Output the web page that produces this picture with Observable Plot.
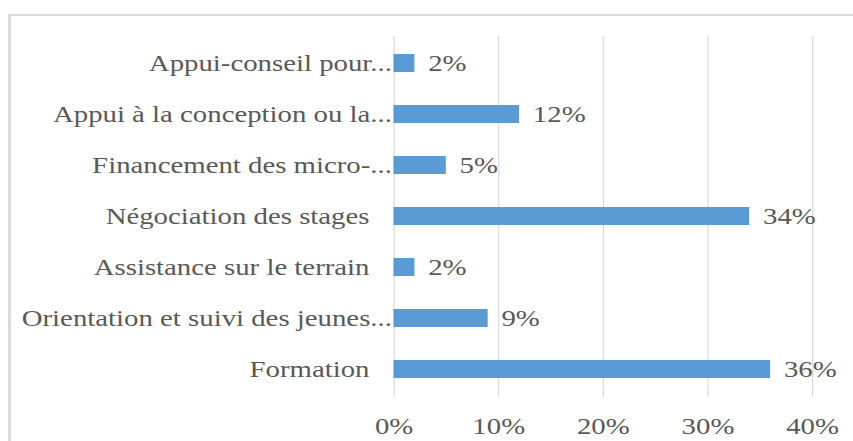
<!DOCTYPE html>
<html>
<head>
<meta charset="utf-8">
<script src="https://cdn.jsdelivr.net/npm/d3@7"></script>
<script src="https://cdn.jsdelivr.net/npm/@observablehq/plot@0.6"></script>
<style>
  html, body { margin: 0; padding: 0; background: #fff; }
  #wrap { position: relative; width: 853px; height: 441px; overflow: hidden; }
  #frame { position: absolute; left: 8px; top: 14px; right: -10px; bottom: -10px;
           border-left: 3px solid #d9d9d9; border-top: 2px solid #d9d9d9; }
  #chart { position: absolute; left: 0; top: 0; }
</style>
</head>
<body>
<div id="wrap"><div id="frame"></div><div id="chart"></div></div>
<script>
const categories = [
  "Appui-conseil pour…",
  "Appui à la conception ou la…",
  "Financement des micro-…",
  "Négociation des stages",
  "Assistance sur le terrain",
  "Orientation et suivi des jeunes…",
  "Formation"
];
const values = [2, 12, 5, 34, 2, 9, 36];
const truncated = [true, true, true, false, false, true, false];
const xTicks = [0, 10, 20, 30, 40];

const data = categories.map((c, i) => ({cat: c, value: values[i], trunc: truncated[i]}));

const S = 1.2; // horizontal stretch of the reference picture
const W = 853 / S;
const textColor = "#595959";

const svg = Plot.plot({
  width: W,
  height: 441,
  marginLeft: 393.5 / S,
  marginRight: W - 812 / S,
  marginTop: 36,
  marginBottom: 44,
  style: {fontFamily: "'Liberation Serif', 'Times New Roman', serif", fontSize: "24px", color: textColor, background: "transparent"},
  x: {domain: [0, 40]},
  y: {domain: categories, paddingInner: 0.64, paddingOuter: 0.32, axis: null},
  marks: [
    Plot.gridX(xTicks, {stroke: "#d9d9d9", strokeOpacity: 1, strokeWidth: 1}),
    Plot.barX(data, {x: "value", y: "cat", fill: "#5b9bd5"}),
    Plot.text(data.filter(d => d.trunc), {x: 0, y: "cat", text: d => d.cat.replace("…", "..."), textAnchor: "end", dx: -1.8, fill: textColor}),
    Plot.text(data.filter(d => !d.trunc), {x: 0, y: "cat", text: "cat", textAnchor: "end", dx: -20.5, fill: textColor}),
    Plot.text(data, {x: "value", y: "cat", text: d => d.value + "%", textAnchor: "start", dx: 11, fill: textColor}),
    Plot.axisX(xTicks, {tickSize: 0, tickPadding: 19, tickFormat: d => d + "%", label: null, fill: textColor})
  ]
});

svg.setAttribute("width", 853);
svg.setAttribute("height", 441);
svg.setAttribute("preserveAspectRatio", "none");
svg.style.width = "853px";
svg.style.height = "441px";
svg.style.maxWidth = "none";
document.getElementById("chart").appendChild(svg);
</script>
</body>
</html>
